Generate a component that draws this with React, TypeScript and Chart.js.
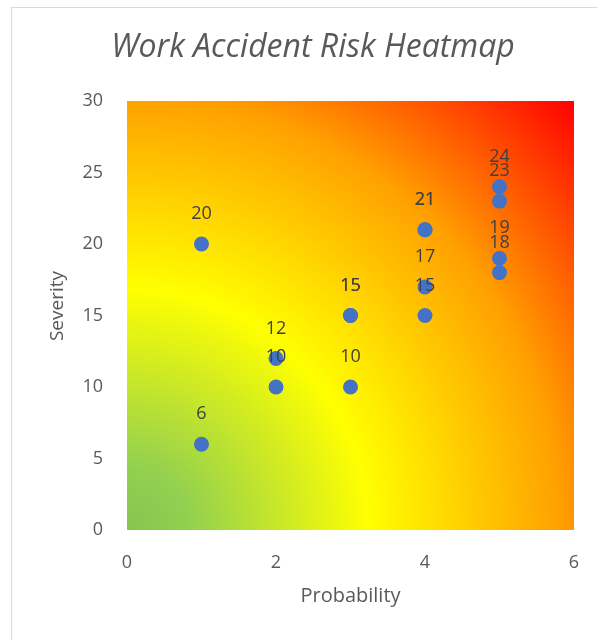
import React, { useEffect, useRef } from "react";
import { Chart, registerables } from "chart.js";

Chart.register(...registerables);

const chartTitle = "Work Accident Risk Heatmap";
const xAxisTitle = "Probability";
const yAxisTitle = "Severity";
const probability = [1, 1, 2, 2, 3, 3, 3, 4, 4, 4, 4, 5, 5, 5, 5];
const severity = [20, 6, 12, 10, 15, 15, 10, 21, 21, 17, 15, 24, 23, 19, 18];
const xTicks = { min: 0, max: 6, step: 2 };
const yTicks = { min: 0, max: 30, step: 5 };

const FONT = "'Open Sans', 'DejaVu Sans', sans-serif";
const GRAY = "#595959";

const gradientPlugin = {
  id: "heatGradient",
  beforeDatasetsDraw(chart: any) {
    const { ctx, chartArea: a } = chart;
    const w = a.right - a.left;
    const h = a.bottom - a.top;
    const r = Math.sqrt(w * w + h * h);
    const g = ctx.createRadialGradient(a.left, a.bottom, 0, a.left, a.bottom, r);
    g.addColorStop(0, "#86C450");
    g.addColorStop(0.1, "#92D050");
    g.addColorStop(0.39, "#FFFF00");
    g.addColorStop(0.7, "#FFA000");
    g.addColorStop(1, "#FF0000");
    ctx.save();
    ctx.fillStyle = g;
    ctx.fillRect(a.left, a.top, w, h);
    ctx.restore();
  },
};

const labelsPlugin = {
  id: "pointLabels",
  afterDatasetsDraw(chart: any) {
    const { ctx } = chart;
    const meta = chart.getDatasetMeta(0);
    ctx.save();
    ctx.font = `18px ${FONT}`;
    ctx.fillStyle = "#404040";
    ctx.textAlign = "center";
    ctx.textBaseline = "middle";
    meta.data.forEach((pt: any, i: number) => {
      ctx.fillText(String(severity[i]), pt.x, pt.y - 30);
    });
    ctx.restore();
  },
};

const titlesPlugin = {
  id: "customTitles",
  afterDraw(chart: any) {
    const { ctx } = chart;
    ctx.save();
    ctx.font = `italic 32px ${FONT}`;
    ctx.fillStyle = GRAY;
    ctx.textAlign = "center";
    ctx.textBaseline = "middle";
    ctx.fillText(chartTitle, 313, 48);
    ctx.restore();

    ctx.save();
    ctx.font = `19px ${FONT}`;
    ctx.fillStyle = GRAY;
    ctx.textAlign = "center";
    ctx.textBaseline = "middle";
    ctx.translate(58, 306);
    ctx.rotate(-Math.PI / 2);
    ctx.fillText(yAxisTitle, 0, 0);
    ctx.restore();
  },
};

export default function App() {
  const ref = useRef<HTMLCanvasElement | null>(null);

  useEffect(() => {
    if (!ref.current) return;
    const chart = new Chart(ref.current, {
      type: "scatter",
      data: {
        datasets: [
          {
            data: probability.map((x, i) => ({ x, y: severity[i] })),
            backgroundColor: "#4472C4",
            borderWidth: 0,
            pointRadius: 7.5,
            pointHoverRadius: 7.5,
          },
        ],
      },
      options: {
        responsive: false,
        animation: false,
        layout: { padding: { top: 101, right: 23, bottom: 10, left: 0 } },
        plugins: {
          legend: { display: false },
          tooltip: { enabled: false },
          title: { display: false },
        },
        scales: {
          x: {
            type: "linear",
            min: xTicks.min,
            max: xTicks.max,
            border: { display: false },
            grid: { display: false, drawTicks: true, tickLength: 22 },
            ticks: {
              stepSize: xTicks.step,
              padding: 0,
              color: GRAY,
              font: { family: FONT, size: 18 },
            },
            title: {
              display: true,
              text: xAxisTitle,
              color: GRAY,
              font: { family: FONT, size: 20 },
              padding: { top: 0, bottom: 22 },
            },
            afterFit(scale: any) {
              scale.height = 100;
            },
          },
          y: {
            type: "linear",
            min: yTicks.min,
            max: yTicks.max,
            border: { display: false },
            grid: { display: false, drawTicks: false },
            ticks: {
              stepSize: yTicks.step,
              padding: 24,
              color: GRAY,
              font: { family: FONT, size: 18 },
            },
            title: { display: false },
            afterFit(scale: any) {
              scale.width = 127;
            },
          },
        },
      },
      plugins: [gradientPlugin, labelsPlugin, titlesPlugin],
    });
    return () => chart.destroy();
  }, []);

  return (
    <div
      style={{
        position: "fixed",
        left: 0,
        top: 0,
        width: 597,
        height: 640,
        background: "#fff",
        overflow: "hidden",
      }}
    >
      <div
        style={{
          position: "absolute",
          left: 11,
          top: 7,
          width: 700,
          height: 700,
          borderTop: "1px solid #d9d9d9",
          borderLeft: "1px solid #d9d9d9",
        }}
      />
      <canvas
        ref={ref}
        width={597}
        height={640}
        style={{ position: "absolute", left: 0, top: 0 }}
      />
    </div>
  );
}
